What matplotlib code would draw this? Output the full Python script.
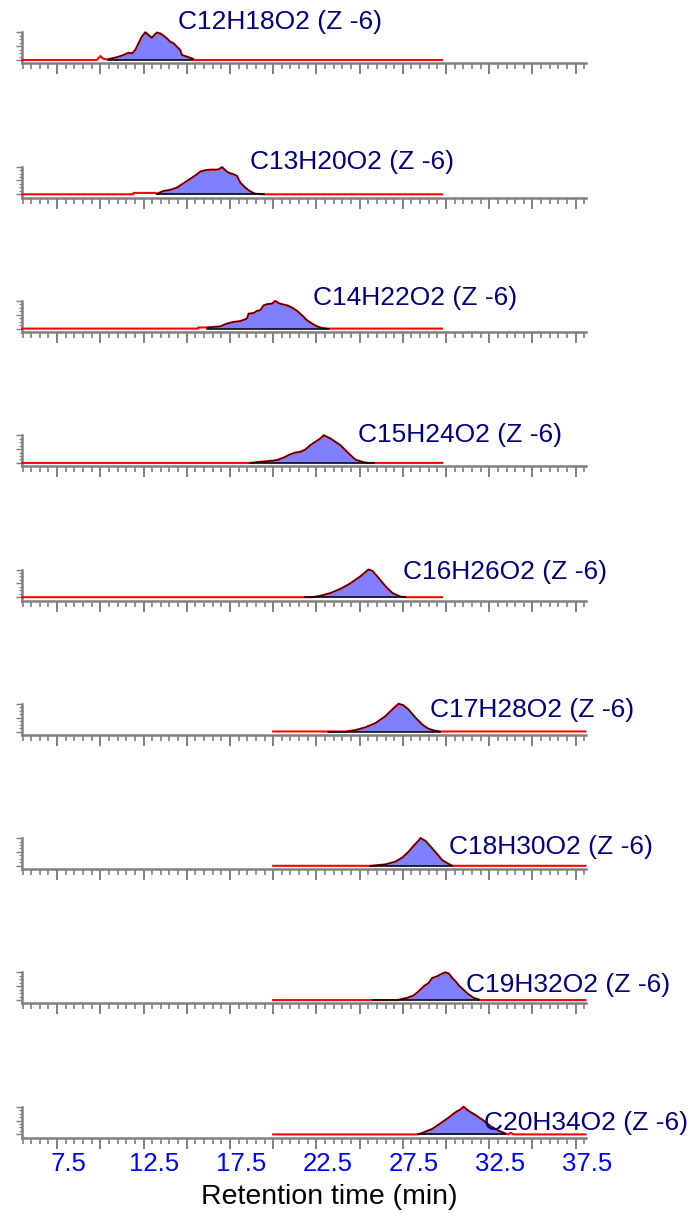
import matplotlib
matplotlib.use("Agg")
import matplotlib.pyplot as plt
import numpy as np
from matplotlib.ticker import MultipleLocator, FuncFormatter, NullFormatter
from matplotlib.transforms import ScaledTranslation

plt.rcParams['font.family'] = ['Liberation Sans', 'DejaVu Sans']

# ---- data: extracted-ion chromatograms (retention time in min, normalised intensity)
formulas = ["C12H18O2 (Z -6)", "C13H20O2 (Z -6)", "C14H22O2 (Z -6)",
            "C15H24O2 (Z -6)", "C16H26O2 (Z -6)", "C17H28O2 (Z -6)",
            "C18H30O2 (Z -6)", "C19H32O2 (Z -6)", "C20H34O2 (Z -6)"]

c12_t = [5.47, 9.8, 10.0, 10.16, 10.34, 10.47, 10.96, 11.34, 11.63, 11.83, 12.02, 12.21,
         12.40, 12.60, 12.69, 12.79, 12.98, 13.12, 13.27, 13.46, 13.66, 13.85, 14.04,
         14.24, 14.43, 14.62, 14.72, 15.01, 15.30, 15.39, 15.5, 29.77]
c12_h = [0, 0, 0.14, 0.05, 0.02, 0.03, 0.10, 0.18, 0.26, 0.24, 0.36, 0.60,
         0.84, 1.0, 0.96, 0.90, 0.80, 0.90, 0.99, 0.96, 0.88, 0.78, 0.66,
         0.60, 0.48, 0.36, 0.18, 0.12, 0.06, 0.02, 0, 0]
c12_base = [10.47, 15.39]

c13_t = [5.47, 11.9, 11.92, 13.2, 13.27, 13.66, 14.04, 14.43, 14.72, 15.01, 15.30, 15.59,
         15.78, 16.07, 16.36, 16.65, 16.84, 17.04, 17.23, 17.42, 17.71, 17.91, 18.1,
         18.39, 18.68, 18.97, 19.45, 29.77]
c13_h = [0, 0, 0.05, 0.05, 0.02, 0.12, 0.16, 0.24, 0.36, 0.48, 0.60, 0.72,
         0.82, 0.87, 0.89, 0.89, 0.90, 0.98, 0.87, 0.78, 0.72, 0.66, 0.42,
         0.24, 0.10, 0.02, 0, 0]
c13_base = [13.27, 19.45]

c14_t = [5.47, 15.66, 15.68, 16.17, 16.94, 17.33, 17.71, 18.1, 18.48, 18.58, 18.87, 19.06,
         19.25, 19.45, 19.64, 19.93, 20.12, 20.31, 20.51, 20.80, 21.09, 21.38, 21.67,
         21.96, 22.25, 22.54, 22.83, 23.21, 29.77]
c14_h = [0, 0, 0.04, 0.04, 0.08, 0.18, 0.24, 0.27, 0.36, 0.54, 0.56, 0.64,
         0.66, 0.84, 0.88, 0.90, 1.0, 0.92, 0.88, 0.84, 0.76, 0.64, 0.48,
         0.30, 0.18, 0.08, 0.02, 0, 0]
c14_base = [16.17, 23.21]

c15_t = [5.47, 18.68, 19.25, 19.83, 20.22, 20.6, 20.99, 21.28, 21.57, 21.86, 22.15, 22.44,
         22.73, 22.92, 23.12, 23.31, 23.60, 23.89, 24.18, 24.47, 24.76, 25.14, 25.43, 29.77]
c15_h = [0, 0, 0.04, 0.07, 0.10, 0.19, 0.31, 0.37, 0.40, 0.48, 0.64, 0.76,
         0.88, 1.0, 0.94, 0.88, 0.76, 0.64, 0.46, 0.28, 0.12, 0.04, 0, 0]
c15_base = [18.68, 25.82]

c16_t = [5.47, 22.27, 22.73, 23.31, 23.89, 24.47, 25.04, 25.33, 25.51, 25.74, 26.09,
         26.49, 26.90, 27.36, 27.65, 29.77]
c16_h = [0, 0, 0.05, 0.15, 0.30, 0.50, 0.75, 0.90, 1.0, 0.95, 0.70,
         0.40, 0.15, 0.02, 0, 0]
c16_base = [21.86, 27.65]

c17_t = [20.0, 24.18, 24.76, 25.33, 25.91, 26.49, 26.90, 27.25, 27.53, 27.82, 28.23,
         28.63, 28.98, 29.39, 29.68, 38.07]
c17_h = [0, 0, 0.05, 0.15, 0.30, 0.55, 0.80, 1.0, 0.95, 0.80, 0.50,
         0.25, 0.10, 0.02, 0, 0]
c17_base = [23.19, 29.68]

c18_t = [20.0, 25.62, 26.49, 27.07, 27.48, 27.82, 28.17, 28.40, 28.52, 28.81, 29.1,
         29.45, 29.79, 30.14, 30.37, 38.07]
c18_h = [0, 0, 0.05, 0.15, 0.30, 0.50, 0.75, 0.90, 1.0, 0.90, 0.70,
         0.45, 0.20, 0.07, 0, 0]
c18_base = [25.62, 30.37]

c19_t = [20.0, 27.17, 27.75, 28.13, 28.42, 28.71, 29.0, 29.2, 29.49, 29.78, 29.97,
         30.16, 30.36, 30.55, 30.74, 31.03, 31.32, 31.61, 31.9, 32.0, 38.07]
c19_h = [0, 0, 0.08, 0.17, 0.32, 0.50, 0.62, 0.80, 0.86, 0.96, 1.0,
         0.96, 0.80, 0.68, 0.53, 0.36, 0.20, 0.08, 0.02, 0, 0]
c19_base = [25.72, 31.9]

c20_t = [20.0, 28.4, 28.81, 29.21, 29.68, 30.14, 30.55, 30.84, 31.01, 31.3, 31.7,
         32.17, 32.57, 32.98, 33.44, 33.6, 33.73, 33.9, 38.07]
c20_h = [0, 0, 0.10, 0.20, 0.40, 0.60, 0.80, 0.90, 1.0, 0.85, 0.70,
         0.50, 0.30, 0.15, 0.03, 0, 0.06, 0, 0]
c20_base = [28.4, 33.44]

traces_t = [c12_t, c13_t, c14_t, c15_t, c16_t, c17_t, c18_t, c19_t, c20_t]
traces_h = [c12_h, c13_h, c14_h, c15_h, c16_h, c17_h, c18_h, c19_h, c20_h]
bases = [c12_base, c13_base, c14_base, c15_base, c16_base,
         c17_base, c18_base, c19_base, c20_base]

tick_label_values = [7.5, 12.5, 17.5, 22.5, 27.5, 32.5, 37.5]

# ---- layout (pixels)
W, H = 692, 1216
fig = plt.figure(figsize=(W / 100, H / 100), dpi=100)

T_MIN, T_MAX = 5.47, 38.07
Y_MIN, Y_MAX = -0.12, 1.0
UNIT_PX = 27.7
AX_LEFT, AX_RIGHT = 22, 585.5
ZERO0, STEP = 60.0, 134.3

title_pos = [(178, 22), (250, 162), (313, 298), (358, 435), (403, 572),
             (430, 710), (449, 847), (466, 985), (484, 1123)]

GREY = '#808080'
FILL = '#8080ff'
NAVY = '#000080'


def label_fmt(v, pos):
    for lv in tick_label_values:
        if abs(v - lv) < 1e-6:
            return f"{v:.1f}"
    return ""


n = len(formulas)
for i in range(n):
    zero = ZERO0 + STEP * i
    top_px = zero - UNIT_PX * Y_MAX
    bot_px = zero - UNIT_PX * Y_MIN
    ax = fig.add_axes([AX_LEFT / W, 1 - bot_px / H,
                       (AX_RIGHT - AX_LEFT) / W, (bot_px - top_px) / H])
    ax.set_xlim(T_MIN, T_MAX)
    ax.set_ylim(Y_MIN, Y_MAX)
    ax.patch.set_alpha(0)

    t = np.asarray(traces_t[i], float)
    h = np.asarray(traces_h[i], float)
    b0, b1 = bases[i]
    seg = (t >= b0 - 1e-9) & (t <= b1 + 1e-9)

    ax.fill_between(t[seg], 0, h[seg], color=FILL, lw=0, zorder=2, clip_on=False)
    ax.plot(t, h, color='red', lw=1.5, zorder=3, clip_on=False)
    ax.plot(t[seg], h[seg], color='black', lw=0.7, zorder=4, clip_on=False)
    ax.plot([b0, b1], [0, 0], color='black', lw=1.1, zorder=4, clip_on=False)

    for s in ('top', 'right'):
        ax.spines[s].set_visible(False)
    for s in ('bottom', 'left'):
        ax.spines[s].set_color(GREY)
        ax.spines[s].set_linewidth(1.8)

    ax.xaxis.set_major_locator(MultipleLocator(2.5))
    ax.xaxis.set_minor_locator(MultipleLocator(0.5))
    ax.yaxis.set_major_locator(MultipleLocator(0.5))
    ax.yaxis.set_minor_locator(MultipleLocator(0.125))
    ax.tick_params(axis='x', which='major', direction='out', length=8, width=1.4,
                   color=GREY, labelcolor='#0000ff', labelsize=18.5, pad=2)
    ax.tick_params(axis='x', which='minor', direction='out', length=4.3, width=1.2,
                   color=GREY)
    ax.tick_params(axis='y', which='major', direction='out', length=4.3, width=1.0,
                   color=GREY, labelleft=False)
    ax.tick_params(axis='y', which='minor', direction='out', length=2.5, width=0.9,
                   color=GREY)
    ax.yaxis.set_major_formatter(NullFormatter())

    if i == n - 1:
        ax.xaxis.set_major_formatter(FuncFormatter(label_fmt))
        shift = ScaledTranslation(11 / 100, 0, fig.dpi_scale_trans)
        for lab in ax.get_xticklabels():
            lab.set_transform(lab.get_transform() + shift)
    else:
        ax.xaxis.set_major_formatter(NullFormatter())

    tx, ty = title_pos[i]
    fig.text(tx / W, 1 - ty / H, formulas[i], ha='left', va='center',
             color=NAVY, fontsize=19)

fig.text(329 / W, 1 - 1197 / H, 'Retention time (min)', ha='center', va='center',
         fontsize=20.5, color='black')

fig.savefig('out.png', dpi=100)
